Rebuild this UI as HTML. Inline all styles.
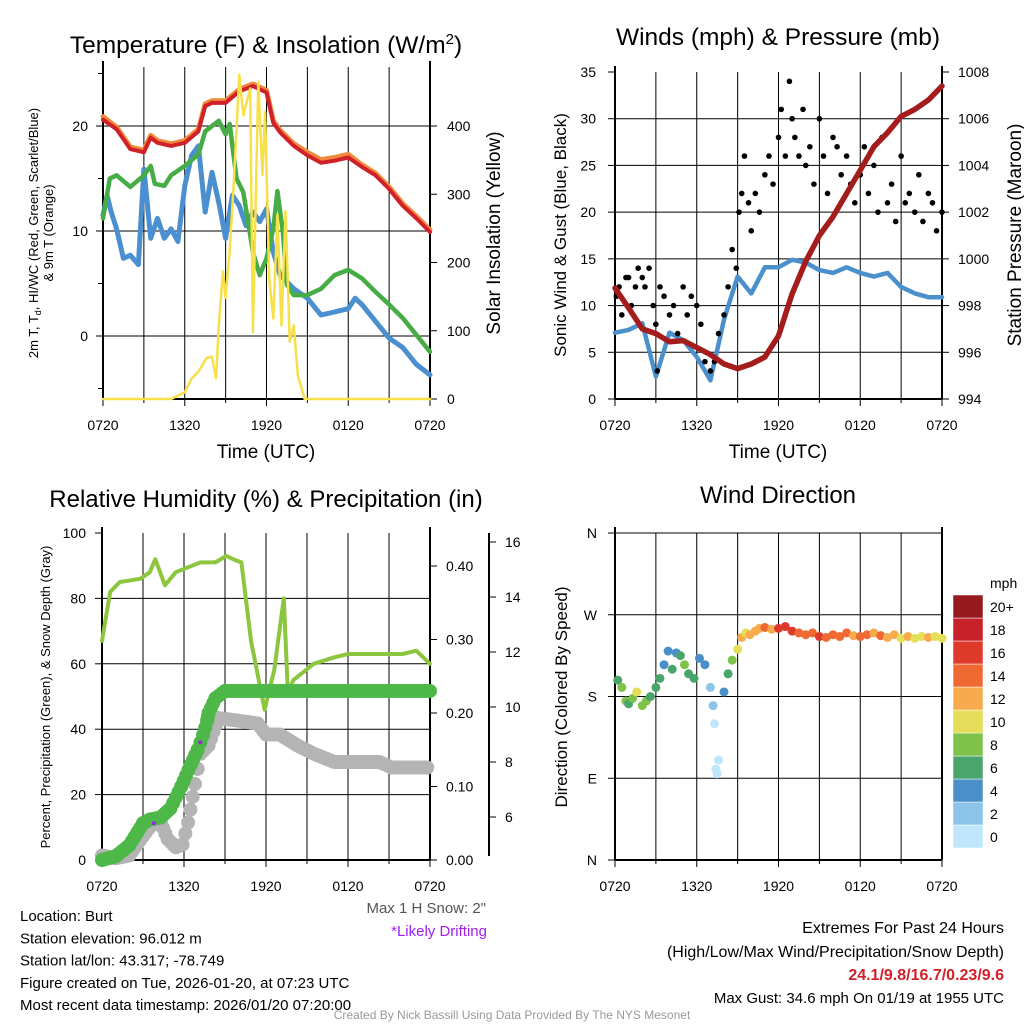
<!DOCTYPE html>
<html><head><meta charset="utf-8"><style>
body{margin:0;background:#fff}
svg{display:block;font-family:"Liberation Sans",sans-serif}
</style></head><body>
<svg id="c" width="1024" height="1024" viewBox="0 0 1024 1024"></svg>
<script>
// ===== DATA =====
const hours = [0,1,2,3,4,5,6,7,8,9,10,11,12,13,14,15,16,17,18,19,20,21,22,23,24];
const xTickLabels = ["0720","1320","1920","0120","0720"];
const tempT = [0,1,2,3,3.5,4,5,6,7,7.5,8,9,10,11,12,12.5,13,14,15,16,17,18,19,20,21,22,23,24];
const tempRed = [20.6,19.7,17.8,17.5,18.9,18.4,18.1,18.4,19.5,21.9,22.2,22.2,23.3,23.8,23.2,20.3,19.4,18.1,17.2,16.5,16.7,17.0,16.1,15.3,14.0,12.4,11.2,9.9];
const tempOrange = [20.9,19.9,18.0,17.7,19.1,18.6,18.3,18.6,19.7,22.1,22.4,22.4,23.5,24.0,23.4,20.5,19.6,18.3,17.5,16.8,17.0,17.3,16.3,15.5,14.2,12.6,11.4,10.1];
const dewT = [0,0.5,1,2,3,3.5,3.8,4.5,5,6,7,7.5,8.5,9,9.3,9.8,10.3,11,11.5,12,12.5,12.8,13.2,13.5,14,15,16,17,18,19,20,21,22,23,24];
const dewGreen = [11.2,15,15.3,14.2,15.3,16.2,14.5,14.3,15.3,16.2,17.3,19.5,20.5,19.2,20.2,15,13.7,8.0,5.8,7.4,10.2,13.8,9.9,4.9,3.9,3.9,4.5,5.8,6.3,5.5,4.2,3.0,1.7,0.1,-1.5];
const chillT = [0,0.3,0.6,1,1.5,2,2.6,3,3.5,4,4.5,5,5.5,6,6.5,7,7.5,8,8.5,9,9.5,10,10.5,11,11.5,12,12.5,13,14,15,16,17,18,18.5,19,20,21,22,23,24];
const chillBlue = [11.5,13.4,11.8,10.2,7.4,7.7,6.8,15.9,9.3,11.2,9.3,10.2,9.0,14.3,17.2,18.1,11.8,15.6,12.7,9.3,13.4,12.4,10.5,11.8,10.9,12.1,8.0,5.8,4.5,3.6,2.0,2.3,2.6,3.6,3.0,1.4,-0.2,-1.1,-2.7,-3.7];
const solarT = [0,5,6,6.5,7,7.6,8,8.3,8.5,8.8,9,9.3,9.6,10,10.3,10.8,11,11.4,11.7,11.9,12.2,12.5,12.8,13.1,13.4,13.7,14,14.3,14.8,24];
const solarV = [0,0,10,30,40,60,62,30,108,187,148,216,318,475,416,455,98,465,328,421,177,118,270,108,275,84,108,35,0,0];
const tLeftTicks = [0,10,20];
const tRightTicks = [0,100,200,300,400];

const windBlue = [7.1,7.4,8.1,2.4,7.1,6.3,4.5,2.0,8.5,13.1,11.3,14.1,14.1,14.9,14.6,13.8,13.5,14.1,13.5,13.1,13.5,12,11.3,10.9,10.9];
const gustT = [0.1,0.3,0.5,0.8,1,1.2,1.5,1.7,2,2.2,2.5,2.8,3,3.1,3.3,3.6,4,4.3,4.6,5,5.3,5.6,6,6.3,6.6,7,7.3,7.6,8,8.3,8.6,8.9,9.1,9.3,9.5,9.8,10,10.3,10.6,11,11.3,11.6,12,12.2,12.5,12.8,13,13.2,13.5,13.8,14,14.3,14.6,15,15.3,15.6,16,16.3,16.6,17,17.3,17.6,18,18.3,18.6,19,19.3,19.6,20,20.3,20.6,21,21.3,21.6,22,22.3,22.6,23,23.3,23.6,24];
const gustV = [11,12,9,13,13,10,12,14,13,12,14,10,8,3,12,11,9,10,7,12,9,11,10,8,4,3,4,7,9,12,16,14,20,22,26,21,18,22,20,24,26,23,28,31,26,34,30,28,26,31,25,27,23,30,26,22,28,27,24,26,23,21,24,27,22,25,20,28,21,23,19,26,21,22,20,24,19,22,21,18,20];
const pressure = [998.75,997.9,997.0,996.8,996.45,996.5,996.2,995.9,995.5,995.3,995.5,995.8,996.7,998.5,999.9,1001.0,1001.8,1002.8,1003.8,1004.8,1005.4,1006.1,1006.4,1006.8,1007.4];
const wLeftTicks = [0,5,10,15,20,25,30,35];
const wRightTicks = [994,996,998,1000,1002,1004,1006,1008];

const rhT = [0,0.6,1.3,2.8,3.5,3.9,4.6,5.4,7.2,8.3,9.1,9.6,10.2,10.9,11.9,12.6,13.3,13.6,14,15.5,17,18,22,23,24];
const rhV = [67,82,85,86,88,92,84,88,91,91,93,92,91,67,46,58,80,51,55,60,62,63,63,64,60];
const precipT = [0,1,2,3,3.5,4.3,5,5.8,6.5,7,7.4,7.7,7.8,8.3,9,24];
const precipV = [0,0.005,0.02,0.05,0.055,0.058,0.07,0.1,0.13,0.15,0.17,0.19,0.2,0.22,0.23,0.23];
const snowT = [0,1,2,3,3.6,4.3,4.8,5.4,5.9,6.3,6.8,7.2,7.8,8.5,10,11.4,12,13,14.3,15.5,17,20.3,21.2,24];
const snowV = [4.6,4.5,4.6,5.3,5.7,5.8,5.2,4.9,5.0,5.8,7.2,8.3,8.6,9.6,9.5,9.4,9.0,9.0,8.6,8.3,8.0,8.0,7.8,7.8];
const rhTicks = [0,20,40,60,80,100];
const precipTicks = [0,0.1,0.2,0.3,0.4];
const precipLabels = ["0.00","0.10","0.20","0.30","0.40"];
const snowTicks = [6,8,10,12,14,16];

const dirT = [0.2,0.5,0.8,1,1.3,1.6,2,2.3,2.6,3,3.3,3.6,3.9,4.2,4.5,4.8,5.1,5.4,5.8,6.2,6.6,7,7.2,7.3,7.4,7.5,7.6,8,8.3,8.6,9,9.3,9.6,9.9,10.3,10.6,11,11.5,12,12.5,13,13.5,14,14.5,15,15.5,16,16.5,17,17.5,18,18.5,19,19.5,20,20.5,21,21.5,22,22.5,23,23.5,24];
const dirV = [198,190,175,172,178,185,170,175,180,190,200,215,230,210,228,225,215,205,200,222,215,190,170,150,100,95,110,185,205,220,232,245,250,248,252,255,256,254,255,257,252,250,248,250,246,245,248,246,250,247,246,248,250,247,245,248,244,246,244,246,245,246,244];
const dirS = [7,8,9,7,8,10,9,8,7,7,6,5,4,7,5,6,8,7,6,5,4,3,2,1,0,0,1,4,7,8,10,12,11,13,13,12,14,13,16,17,16,15,14,15,16,14,15,14,15,13,14,15,13,14,12,13,11,12,10,11,12,11,10];
const dirTicks = ["N","E","S","W","N"];
const speedBinLabels = ["0","2","4","6","8","10","12","14","16","18","20+"];
const speedColors = ["#bfe6fa","#8cc4ea","#4a8fc9","#4aa56c","#7ec24a","#e6de58","#f7ab4c","#ef6a32","#de3a2c","#c82129","#961a1e"];

// ===== helpers =====
const svg = document.getElementById('c');
const NS = 'http://www.w3.org/2000/svg';
function mk(tag, attrs, parent){const e=document.createElementNS(NS,tag);for(const k in attrs)e.setAttribute(k,attrs[k]);(parent||svg).appendChild(e);return e;}
function txt(s,x,y,size,anchor,extra){const e=mk('text',Object.assign({x:x,y:y,'font-size':size,'text-anchor':anchor||'middle',fill:'#000'},extra||{}));e.textContent=s;return e;}
function lin(d0,d1,r0,r1){return v=>r0+(v-d0)*(r1-r0)/(d1-d0);}
function poly(xs,ys,xf,yf,stroke,w,name){const p=xs.map((t,i)=>xf(t).toFixed(1)+','+yf(ys[i]).toFixed(1)).join(' ');const e=mk('polyline',{points:p,fill:'none',stroke:stroke,'stroke-width':w,'stroke-linejoin':'round','stroke-linecap':'round'});


return e;}
function frame(x0,x1,y0,y1,name){
  const g=mk('g',{});
  
  
  for(let k=0;k<=8;k++){const x=x0+(x1-x0)*k/8;mk('line',{x1:x,y1:y0,x2:x,y2:y1+(k%2==0?7:4),stroke:'#000','stroke-width':1},g);}
  mk('line',{x1:x0,y1:y0-6,x2:x0,y2:y1,stroke:'#000','stroke-width':2},g);
  mk('line',{x1:x1,y1:y0-6,x2:x1,y2:y1,stroke:'#000','stroke-width':2},g);
  mk('line',{x1:x0,y1:y1,x2:x1,y2:y1,stroke:'#000','stroke-width':2},g);
  xTickLabels.forEach((l,i)=>{const t=txt(l,x0+(x1-x0)*i/4,y1+31,14);});
  return g;
}
function hgrid(x0,x1,y,out){mk('line',{x1:x0-(out?7:0),y1:y,x2:x1,y2:y,stroke:'#000','stroke-width':1});}

// ===== Panel 1 =====
{
const X=lin(0,24,103,430), Y=lin(0,10,336,231), YS=lin(0,400,399,126);
frame(103,430,67,399,'temperature-panel-frame');
tLeftTicks.forEach(v=>{hgrid(103,430,Y(v),true);const t=txt(String(v),88,Y(v)+5,14,'end');});
[-5,5,15,25].forEach(v=>mk('line',{x1:98,y1:Y(v),x2:103,y2:Y(v),stroke:'#000'}));
tRightTicks.forEach(v=>{mk('line',{x1:430,y1:YS(v),x2:437,y2:YS(v),stroke:'#000'});const t=txt(String(v),447,YS(v)+5,14,'start');});
poly(chillT,chillBlue,X,Y,'#4a8fcf',5,'wind-chill-line');
poly(dewT,dewGreen,X,Y,'#46ad46',4.5,'dewpoint-line');
poly(tempT,tempOrange,X,Y,'#f08a3a',5,'9m-temperature-line');
poly(tempT,tempRed,X,Y,'#d0202a',4,'2m-temperature-line');
poly(solarT,solarV,X,YS,'#f7e04a',2.5,'solar-insolation-line');
const tt=txt('',266,53,24.5);tt.innerHTML='Temperature (F) &amp; Insolation (W/m<tspan font-size="15" dy="-9">2</tspan><tspan dy="9">)</tspan>';

const xl=txt('Time (UTC)',266,458,19);
const g=mk('g',{transform:'translate(38,233) rotate(-90)'});
const a=mk('text',{x:0,y:0,'font-size':13,'text-anchor':'middle'},g);a.innerHTML='2m T, T<tspan font-size="9" dy="3">d</tspan><tspan dy="-3">, HI/WC (Red, Green, Scarlet/Blue)</tspan>';
const b=mk('text',{x:0,y:15,'font-size':13,'text-anchor':'middle'},g);b.textContent='& 9m T (Orange)';
const r=txt('Solar Insolation (Yellow)',0,0,19,'middle',{transform:'translate(500,233) rotate(-90)'});
}
// ===== Panel 2 =====
{
const X=lin(0,24,615,942), Y=lin(0,35,399,72), YP=lin(994,1008,399,72);
frame(615,942,72,399,'winds-panel-frame');
wLeftTicks.forEach(v=>{if(v>0&&v<35)hgrid(615,942,Y(v),false);mk('line',{x1:608,y1:Y(v),x2:615,y2:Y(v),stroke:'#000'});const t=txt(String(v),596,Y(v)+5,14,'end');});
wRightTicks.forEach(v=>{mk('line',{x1:942,y1:YP(v),x2:949,y2:YP(v),stroke:'#000'});const t=txt(String(v),958,YP(v)+5,14,'start');});
poly(hours,windBlue,X,Y,'#4a90cc',4.5,'sonic-wind-line');
gustT.forEach((t,i)=>{const c=mk('circle',{cx:X(t),cy:Y(gustV[i]),r:2.8,fill:'#000'});

});
poly(hours,pressure,X,YP,'#a51c1c',5.5,'pressure-line');
const tt=txt('Winds (mph) & Pressure (mb)',778,45,24.5);
const xl=txt('Time (UTC)',778,458,19);
const l=txt('Sonic Wind & Gust (Blue, Black)',0,0,17,'middle',{transform:'translate(566,235) rotate(-90)'});
const r=txt('Station Pressure (Maroon)',0,0,19,'middle',{transform:'translate(1021,235) rotate(-90)'});
}
// ===== Panel 3 =====
{
const X=lin(0,24,102,430), Y=lin(0,100,860,533), YP=lin(0,0.1,860,786.5), YSn=lin(8,10,762,707);
frame(102,430,533,860,'humidity-panel-frame');
rhTicks.forEach(v=>{if(v>0&&v<100)hgrid(102,430,Y(v),false);mk('line',{x1:95,y1:Y(v),x2:102,y2:Y(v),stroke:'#000'});const t=txt(String(v),86,Y(v)+5,14,'end');});
precipTicks.forEach((v,i)=>{mk('line',{x1:430,y1:YP(v),x2:437,y2:YP(v),stroke:'#000'});const t=txt(precipLabels[i],446,YP(v)+5,14,'start');});
mk('line',{x1:489,y1:533,x2:489,y2:856,stroke:'#000','stroke-width':2});
snowTicks.forEach(v=>{mk('line',{x1:489,y1:YSn(v),x2:496,y2:YSn(v),stroke:'#000'});const t=txt(String(v),505,YSn(v)+5,14,'start');});
poly(rhT,rhV,X,Y,'#8cc63f',4,'relative-humidity-line');
for(let k=0;k<snowT.length-1;k++){const n=Math.max(2,Math.round((snowT[k+1]-snowT[k])*5));for(let s=0;s<n;s++){const t=snowT[k]+(snowT[k+1]-snowT[k])*s/n;const v=snowV[k]+(snowV[k+1]-snowV[k])*s/n;const c=mk('circle',{cx:X(t),cy:YSn(v),r:7,fill:'#b4b4b4'});

}}
for(let k=0;k<precipT.length-1;k++){const n=Math.max(2,Math.round((precipT[k+1]-precipT[k])*5));for(let s=0;s<=n;s++){const t=precipT[k]+(precipT[k+1]-precipT[k])*s/n;const v=precipV[k]+(precipV[k+1]-precipV[k])*s/n;const c=mk('circle',{cx:X(t),cy:YP(v),r:7,fill:'#4db848'});

}}
[[3.8,0.05],[7.2,0.16]].forEach(p=>{const c=mk('circle',{cx:X(p[0]),cy:YP(p[1]),r:2,fill:'#a020f0'});});
const tt=txt('Relative Humidity (%) & Precipitation (in)',266,507,24);
const l=txt('Percent, Precipitation (Green), & Snow Depth (Gray)',0,0,13,'middle',{transform:'translate(50,697) rotate(-90)'});
}
// ===== Panel 4 =====
{
const X=lin(0,24,615,942), Y=lin(0,360,860,533);
frame(615,942,533,860,'direction-panel-frame');
dirTicks.forEach((l,i)=>{const v=i*90;if(i>0&&i<4)hgrid(615,942,Y(v),false);mk('line',{x1:608,y1:Y(v),x2:615,y2:Y(v),stroke:'#000'});const t=txt(l,597,Y(v)+5,14,'end');});
mk('line',{x1:615,y1:533,x2:942,y2:533,stroke:'#000','stroke-width':1});
dirT.forEach((t,i)=>{const bin=Math.min(10,Math.floor(dirS[i]/2));const c=mk('circle',{cx:X(t),cy:Y(dirV[i]),r:4.5,fill:speedColors[bin]});

});
speedBinLabels.forEach((l,i)=>{const y=848-(i+1)*23;const r=mk('rect',{x:953,y:y,width:30,height:23,fill:speedColors[i],stroke:'#fff','stroke-width':0.5});


const t=txt(l,990,y+17,14,'start');});
const m=txt('mph',990,588,14,'start');
const tt=txt('Wind Direction',778,503,24);
const l=txt('Direction (Colored By Speed)',0,0,17,'middle',{transform:'translate(567,697) rotate(-90)'});
}
// ===== text =====
const info=["Location: Burt","Station elevation: 96.012 m","Station lat/lon: 43.317; -78.749","Figure created on Tue, 2026-01-20, at 07:23 UTC","Most recent data timestamp: 2026/01/20 07:20:00"];
info.forEach((s,i)=>{const t=txt(s,20,921+i*22.3,15,'start');});
{const t=txt('Max 1 H Snow: 2"',486,913,15,'end',{fill:'#555'});}
{const t=txt('*Likely Drifting',487,936,15,'end',{fill:'#a020f0'});}
{const t=txt('Extremes For Past 24 Hours',1004,933,16,'end');}
{const t=txt('(High/Low/Max Wind/Precipitation/Snow Depth)',1004,957,16,'end');}
{const t=txt('24.1/9.8/16.7/0.23/9.6',1004,980,16,'end',{fill:'#d0202a','font-weight':'bold'});}
{const t=txt('Max Gust: 34.6 mph On 01/19 at 1955 UTC',1004,1003,15,'end');}
{const t=txt('Created By Nick Bassill Using Data Provided By The NYS Mesonet',512,1019,12,'middle',{fill:'#999'});}
</script>
</body></html>
